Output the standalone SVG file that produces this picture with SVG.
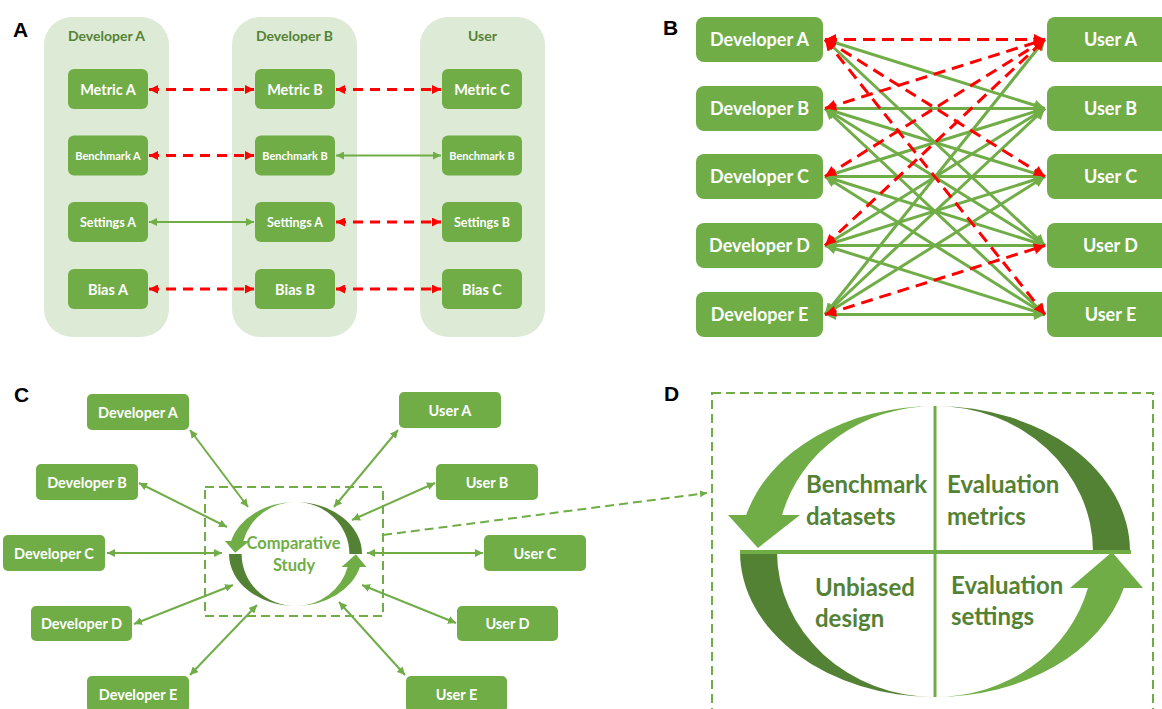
<svg xmlns="http://www.w3.org/2000/svg" xmlns:xlink="http://www.w3.org/1999/xlink" width="1162" height="709" viewBox="0 0 1162 709">
<style>
.lbl{font-family:"Liberation Sans",Arial,sans-serif;font-weight:bold;font-size:21px;fill:#000}
.col{fill:#DDEAD5}
.ttl{font-family:Lato,"Open Sans",sans-serif;font-weight:bold;font-size:14px;fill:#548235;text-anchor:middle}
.box{fill:#70AD47}
.bt{font-family:Lato,"Open Sans",sans-serif;font-weight:bold;fill:#fff;text-anchor:middle}
.redA{stroke:#FF0000;stroke-width:3;stroke-dasharray:10 7;fill:none;marker-start:url(#mRedA);marker-end:url(#mRedA)}
.grnA{stroke:#70AD47;stroke-width:2;fill:none;marker-start:url(#mGrnA);marker-end:url(#mGrnA)}
.grnB{stroke:#70AD47;stroke-width:3;fill:none;marker-start:url(#mGrnB);marker-end:url(#mGrnB)}
.redB{stroke:#FF0000;stroke-width:3;stroke-dasharray:12 7;fill:none;marker-start:url(#mRedB);marker-end:url(#mRedB)}
.grnC{stroke:#70AD47;stroke-width:2;fill:none;marker-start:url(#mGrnA);marker-end:url(#mGrnA)}
.dsh{stroke:#70AD47;stroke-width:2;stroke-dasharray:9 5;fill:none}
.dt{font-family:Lato,"Open Sans",sans-serif;font-weight:bold;font-size:24px;fill:#548235}
.ct{font-family:Lato,"Open Sans",sans-serif;font-weight:bold;font-size:16.5px;fill:#70AD47;text-anchor:middle}
</style>
<defs>
<marker id="mRedA" viewBox="0 0 10 10" refX="10" refY="5" markerWidth="9" markerHeight="9" markerUnits="userSpaceOnUse" orient="auto-start-reverse"><path d="M0,0 L10,5 L0,10 z" fill="#FF0000"/></marker>
<marker id="mGrnA" viewBox="0 0 10 10" refX="10" refY="5" markerWidth="8" markerHeight="8" markerUnits="userSpaceOnUse" orient="auto-start-reverse"><path d="M0,0 L10,5 L0,10 z" fill="#70AD47"/></marker>
<marker id="mGrnB" viewBox="0 0 10 10" refX="10" refY="5" markerWidth="12" markerHeight="11" markerUnits="userSpaceOnUse" orient="auto-start-reverse"><path d="M0,0 L10,5 L0,10 z" fill="#70AD47"/></marker>
<marker id="mRedB" viewBox="0 0 10 10" refX="10" refY="5" markerWidth="12" markerHeight="11" markerUnits="userSpaceOnUse" orient="auto-start-reverse"><path d="M0,0 L10,5 L0,10 z" fill="#FF0000"/></marker>
<marker id="mDsh" viewBox="0 0 10 10" refX="10" refY="5" markerWidth="7" markerHeight="7" markerUnits="userSpaceOnUse" orient="auto"><path d="M0,0 L10,5 L0,10 z" fill="#70AD47"/></marker>
<g id="ring">
<path d="M0,-145.5 A195,145.5 0 0 0 -188.8,-36.5 L-207,-36.5 L-177,-3.5 L-135,-36.5 L-152.9,-36.5 A158,145.5 0 0 1 0,-145.5 Z" fill="#70AD47"/>
<path d="M0,-145.5 A195,145.5 0 0 1 195,0 L158,0 A158,145.5 0 0 0 0,-145.5 Z" fill="#548235"/>
<path d="M-195,0 A195,145.5 0 0 0 0,145.5 A158,145.5 0 0 1 -158,0 Z" fill="#548235"/>
<path d="M0,145.5 A195,145.5 0 0 0 188.8,36.5 L208,36.5 L177,0.5 L135,36.5 L152.9,36.5 A158,145.5 0 0 1 0,145.5 Z" fill="#70AD47"/>
</g>
</defs>
<rect width="1162" height="709" fill="#fff"/>

<!-- Panel labels -->
<text class="lbl" x="13" y="37">A</text>
<text class="lbl" x="663" y="35">B</text>
<text class="lbl" x="14" y="402">C</text>
<text class="lbl" x="664" y="401">D</text>

<!-- ========== Panel A ========== -->
<g id="colDevA"><rect class="col" x="44" y="17" width="125" height="320" rx="28"/><text class="ttl" x="106.5" y="41">Developer A</text></g>
<g id="colDevB"><rect class="col" x="232" y="17" width="125" height="320" rx="28"/><text class="ttl" x="294.5" y="41">Developer B</text></g>
<g id="colUser"><rect class="col" x="420" y="17" width="125" height="320" rx="28"/><text class="ttl" x="482.5" y="41">User</text></g>

<g id="metricA"><rect class="box" x="68" y="69" width="80" height="40" rx="6"/><text class="bt" x="108" y="94.5" font-size="14.5">Metric A</text></g>
<g id="benchA"><rect class="box" x="68" y="135.5" width="80" height="40" rx="6"/><text class="bt" x="108" y="159.5" font-size="11">Benchmark A</text></g>
<g id="settingsA"><rect class="box" x="68" y="202" width="80" height="40" rx="6"/><text class="bt" x="108" y="226.5" font-size="12.5">Settings A</text></g>
<g id="biasA"><rect class="box" x="68" y="269" width="80" height="40" rx="6"/><text class="bt" x="108" y="294.5" font-size="14.5">Bias A</text></g>

<g id="metricB"><rect class="box" x="255" y="69" width="80" height="40" rx="6"/><text class="bt" x="295" y="94.5" font-size="14.5">Metric B</text></g>
<g id="benchB"><rect class="box" x="255" y="135.5" width="80" height="40" rx="6"/><text class="bt" x="295" y="159.5" font-size="11">Benchmark B</text></g>
<g id="settingsA2"><rect class="box" x="255" y="202" width="80" height="40" rx="6"/><text class="bt" x="295" y="226.5" font-size="12.5">Settings A</text></g>
<g id="biasB"><rect class="box" x="255" y="269" width="80" height="40" rx="6"/><text class="bt" x="295" y="294.5" font-size="14.5">Bias B</text></g>

<g id="metricC"><rect class="box" x="442" y="69" width="80" height="40" rx="6"/><text class="bt" x="482" y="94.5" font-size="14.5">Metric C</text></g>
<g id="benchB2"><rect class="box" x="442" y="135.5" width="80" height="40" rx="6"/><text class="bt" x="482" y="159.5" font-size="11">Benchmark B</text></g>
<g id="settingsB"><rect class="box" x="442" y="202" width="80" height="40" rx="6"/><text class="bt" x="482" y="226.5" font-size="12.5">Settings B</text></g>
<g id="biasC"><rect class="box" x="442" y="269" width="80" height="40" rx="6"/><text class="bt" x="482" y="294.5" font-size="14.5">Bias C</text></g>

<g id="connectorsA">
<line class="redA" x1="149" y1="89.5" x2="254" y2="89.5"/>
<line class="redA" x1="149" y1="155.5" x2="254" y2="155.5"/>
<line class="grnA" x1="149" y1="222" x2="254" y2="222"/>
<line class="redA" x1="149" y1="289" x2="254" y2="289"/>
<line class="redA" x1="336" y1="89.5" x2="441" y2="89.5"/>
<line class="grnA" x1="336" y1="155.5" x2="441" y2="155.5"/>
<line class="redA" x1="336" y1="222" x2="441" y2="222"/>
<line class="redA" x1="336" y1="289" x2="441" y2="289"/>
</g>

<!-- ========== Panel B ========== -->
<g id="bDevA"><rect class="box" x="696" y="17" width="127" height="45" rx="8"/><text class="bt" x="759.5" y="46" font-size="18">Developer A</text></g>
<g id="bDevB"><rect class="box" x="696" y="86" width="127" height="45" rx="8"/><text class="bt" x="759.5" y="115" font-size="18">Developer B</text></g>
<g id="bDevC"><rect class="box" x="696" y="154" width="127" height="45" rx="8"/><text class="bt" x="759.5" y="183" font-size="18">Developer C</text></g>
<g id="bDevD"><rect class="box" x="696" y="223" width="127" height="45" rx="8"/><text class="bt" x="759.5" y="252" font-size="18">Developer D</text></g>
<g id="bDevE"><rect class="box" x="696" y="292" width="127" height="45" rx="8"/><text class="bt" x="759.5" y="321" font-size="18">Developer E</text></g>
<g id="bUserA"><rect class="box" x="1047" y="17" width="127" height="45" rx="8"/><text class="bt" x="1110.5" y="46" font-size="18">User A</text></g>
<g id="bUserB"><rect class="box" x="1047" y="86" width="127" height="45" rx="8"/><text class="bt" x="1110.5" y="115" font-size="18">User B</text></g>
<g id="bUserC"><rect class="box" x="1047" y="154" width="127" height="45" rx="8"/><text class="bt" x="1110.5" y="183" font-size="18">User C</text></g>
<g id="bUserD"><rect class="box" x="1047" y="223" width="127" height="45" rx="8"/><text class="bt" x="1110.5" y="252" font-size="18">User D</text></g>
<g id="bUserE"><rect class="box" x="1047" y="292" width="127" height="45" rx="8"/><text class="bt" x="1110.5" y="321" font-size="18">User E</text></g>

<g id="connectorsB">
<line class="grnB" x1="825" y1="39.5" x2="1045" y2="108.5"/>
<line class="grnB" x1="825" y1="39.5" x2="1045" y2="245.5"/>
<line class="grnB" x1="825" y1="108.5" x2="1045" y2="108.5"/>
<line class="grnB" x1="825" y1="108.5" x2="1045" y2="176.5"/>
<line class="grnB" x1="825" y1="108.5" x2="1045" y2="245.5"/>
<line class="grnB" x1="825" y1="108.5" x2="1045" y2="314.5"/>
<line class="grnB" x1="825" y1="176.5" x2="1045" y2="108.5"/>
<line class="grnB" x1="825" y1="176.5" x2="1045" y2="176.5"/>
<line class="grnB" x1="825" y1="176.5" x2="1045" y2="245.5"/>
<line class="grnB" x1="825" y1="176.5" x2="1045" y2="314.5"/>
<line class="grnB" x1="825" y1="245.5" x2="1045" y2="108.5"/>
<line class="grnB" x1="825" y1="245.5" x2="1045" y2="176.5"/>
<line class="grnB" x1="825" y1="245.5" x2="1045" y2="245.5"/>
<line class="grnB" x1="825" y1="245.5" x2="1045" y2="314.5"/>
<line class="grnB" x1="825" y1="314.5" x2="1045" y2="39.5"/>
<line class="grnB" x1="825" y1="314.5" x2="1045" y2="108.5"/>
<line class="grnB" x1="825" y1="314.5" x2="1045" y2="176.5"/>
<line class="grnB" x1="825" y1="314.5" x2="1045" y2="314.5"/>
<line class="redB" x1="825" y1="39.5" x2="1045" y2="39.5"/>
<line class="redB" x1="825" y1="39.5" x2="1045" y2="176.5"/>
<line class="redB" x1="825" y1="39.5" x2="1045" y2="314.5"/>
<line class="redB" x1="825" y1="108.5" x2="1045" y2="39.5"/>
<line class="redB" x1="825" y1="176.5" x2="1045" y2="39.5"/>
<line class="redB" x1="825" y1="245.5" x2="1045" y2="39.5"/>
<line class="redB" x1="825" y1="314.5" x2="1045" y2="245.5"/>
</g>

<!-- ========== Panel C ========== -->
<g id="cDevA"><rect class="box" x="87" y="394" width="102" height="36" rx="5"/><text class="bt" x="138" y="417.5" font-size="14.5">Developer A</text></g>
<g id="cDevB"><rect class="box" x="36" y="464" width="102" height="36" rx="5"/><text class="bt" x="87" y="487.5" font-size="14.5">Developer B</text></g>
<g id="cDevC"><rect class="box" x="3" y="535" width="102" height="36" rx="5"/><text class="bt" x="54" y="558.5" font-size="14.5">Developer C</text></g>
<g id="cDevD"><rect class="box" x="31" y="606" width="101" height="35" rx="5"/><text class="bt" x="81.5" y="629" font-size="14.5">Developer D</text></g>
<g id="cDevE"><rect class="box" x="87" y="676" width="102" height="36" rx="5"/><text class="bt" x="138" y="699.5" font-size="14.5">Developer E</text></g>
<g id="cUserA"><rect class="box" x="399" y="392" width="102" height="36" rx="5"/><text class="bt" x="450" y="415.5" font-size="14.5">User A</text></g>
<g id="cUserB"><rect class="box" x="436" y="464" width="102" height="36" rx="5"/><text class="bt" x="487" y="487.5" font-size="14.5">User B</text></g>
<g id="cUserC"><rect class="box" x="484" y="535" width="102" height="36" rx="5"/><text class="bt" x="535" y="558.5" font-size="14.5">User C</text></g>
<g id="cUserD"><rect class="box" x="457" y="606" width="101" height="35" rx="5"/><text class="bt" x="507.5" y="629" font-size="14.5">User D</text></g>
<g id="cUserE"><rect class="box" x="406" y="676" width="101" height="36" rx="5"/><text class="bt" x="456.5" y="699.5" font-size="14.5">User E</text></g>

<g id="comparativeStudy">
<rect class="dsh" x="205" y="487" width="178" height="129"/>
<use xlink:href="#ring" href="#ring" transform="translate(295.5,554) scale(0.341,0.357)"/>
<text class="ct" x="293.5" y="549">Comparative</text>
<text class="ct" x="294" y="571">Study</text>
</g>

<g id="connectorsC">
<line class="grnC" x1="190" y1="430" x2="248" y2="507"/>
<line class="grnC" x1="139" y1="483" x2="227" y2="527"/>
<line class="grnC" x1="107" y1="553" x2="222" y2="553"/>
<line class="grnC" x1="134" y1="624" x2="233" y2="585"/>
<line class="grnC" x1="190" y1="675" x2="257" y2="605"/>
<line class="grnC" x1="398" y1="430" x2="334" y2="507"/>
<line class="grnC" x1="435" y1="483" x2="352" y2="520"/>
<line class="grnC" x1="483" y1="553" x2="367" y2="553"/>
<line class="grnC" x1="456" y1="623" x2="362" y2="585"/>
<line class="grnC" x1="405" y1="675" x2="339" y2="602"/>
<line class="dsh" x1="383" y1="535" x2="707" y2="493" marker-end="url(#mDsh)"/>
</g>

<!-- ========== Panel D ========== -->
<g id="cycleD">
<rect class="dsh" x="712" y="393" width="441" height="330"/>
<use xlink:href="#ring" href="#ring" transform="translate(935,551.5)"/>
<line x1="935" y1="406" x2="935" y2="697" stroke="#70AD47" stroke-width="3"/>
<line x1="740" y1="552" x2="1131" y2="552" stroke="#70AD47" stroke-width="4"/>
<text class="dt" x="806" y="493">Benchmark</text>
<text class="dt" x="806" y="525">datasets</text>
<text class="dt" x="947" y="493">Evaluation</text>
<text class="dt" x="947" y="525">metrics</text>
<text class="dt" x="815" y="596">Unbiased</text>
<text class="dt" x="815" y="627">design</text>
<text class="dt" x="951" y="594">Evaluation</text>
<text class="dt" x="951" y="625">settings</text>
</g>
</svg>
